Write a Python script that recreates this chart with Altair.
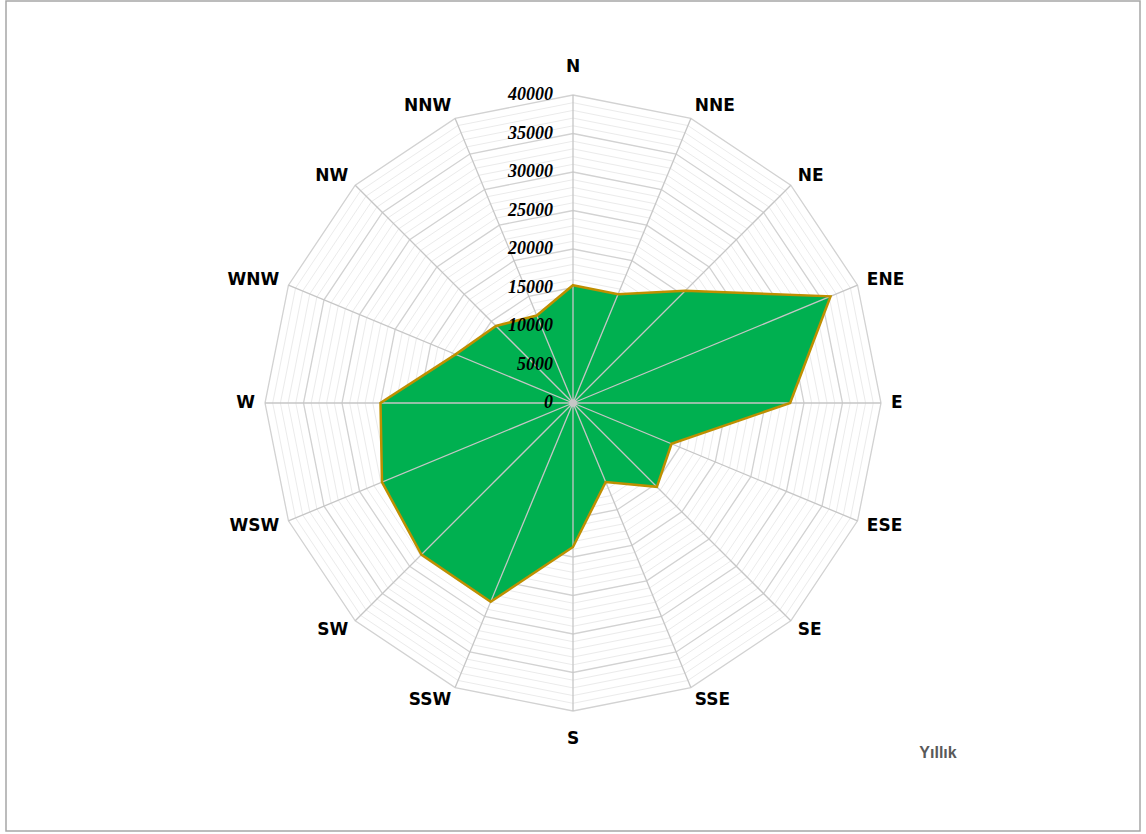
import altair as alt
import pandas as pd

# ---- data ----
directions = ["N", "NNE", "NE", "ENE", "E", "ESE", "SE", "SSE",
              "S", "SSW", "SW", "WSW", "W", "WNW", "NW", "NNW"]
values = [15300, 15300, 20600, 36200, 28200, 13850, 15400, 11100,
          18700, 27950, 27850, 26850, 25000, 16500, 14150, 12300]
major_ticks = [0, 5000, 10000, 15000, 20000, 25000, 30000, 35000, 40000]
minor_step = 1000
r_max = 40000
series_label = "Yıllık"

# ---- layout ----
W, H = 1134, 830          # plot area (inside frame)
CX, CY = 567, 402         # centre of the radar within plot area
R_PX = 308                # radius of the outer ring in pixels
PX = R_PX / r_max         # pixels per unit
xdom = [-CX / PX, (W - CX) / PX]
ydom = [-(H - CY) / PX, CY / PX]
xs = alt.Scale(domain=xdom, nice=False, zero=False)
ys = alt.Scale(domain=ydom, nice=False, zero=False)
n = len(directions)

df_dir = pd.DataFrame({"dir": directions, "idx": list(range(n)), "value": values})

levels = list(range(minor_step, r_max + 1, minor_step))
grid_rows = []
for lv in levels:
    for i in range(n):
        grid_rows.append({"level": lv, "idx": i, "major": lv % 5000 == 0})
df_grid = pd.DataFrame(grid_rows)
df_ticks = pd.DataFrame({"level": major_ticks, "label": [str(t) for t in major_ticks]})

ang = f"datum.idx * 2 * PI / {n}"
X = alt.X("x:Q", scale=xs, axis=None)
Y = alt.Y("y:Q", scale=ys, axis=None)

grid_base = alt.Chart(df_grid).transform_calculate(
    x=f"datum.level * sin({ang})", y=f"datum.level * cos({ang})"
)
minor = grid_base.transform_filter("!datum.major").mark_line(
    interpolate="linear-closed", stroke="#ebebeb", strokeWidth=1
).encode(x=X, y=Y, detail="level:N", order="idx:Q")
major = grid_base.transform_filter("datum.major").mark_line(
    interpolate="linear-closed", stroke="#d2d2d2", strokeWidth=1.3
).encode(x=X, y=Y, detail="level:N", order="idx:Q")

poly_base = alt.Chart(df_dir).transform_calculate(
    x=f"datum.value * sin({ang})", y=f"datum.value * cos({ang})"
)
fill = poly_base.mark_line(
    interpolate="linear-closed", fill="#00B050", stroke="#00B050", strokeWidth=0.5
).encode(x=X, y=Y, order="idx:Q")
outline = poly_base.mark_line(
    interpolate="linear-closed", stroke="#BF8F00", strokeWidth=2.5
).encode(x=X, y=Y, order="idx:Q")

spokes = alt.Chart(df_dir).transform_calculate(
    x0="0", y0="0",
    xe=f"{r_max} * sin({ang})", ye=f"{r_max} * cos({ang})"
).mark_rule(stroke="#c6c6c6", strokeWidth=1.3).encode(
    x=alt.X("x0:Q", scale=xs, axis=None), y=alt.Y("y0:Q", scale=ys, axis=None),
    x2="xe:Q", y2="ye:Q"
)

centre = alt.Chart(df_dir.head(1)).transform_calculate(x0="0", y0="0").mark_point(
    filled=True, color="#c6c6c6", size=60, opacity=1
).encode(x=alt.X("x0:Q", scale=xs, axis=None), y=alt.Y("y0:Q", scale=ys, axis=None))

tick_labels = alt.Chart(df_ticks).transform_calculate(x="0").mark_text(
    align="right", baseline="middle", dx=-20, font="Liberation Serif",
    fontStyle="italic", fontWeight="bold", fontSize=18, color="#000000"
).encode(x=alt.X("x:Q", scale=xs, axis=None),
         y=alt.Y("level:Q", scale=ys, axis=None), text="label:N")

# direction labels: sides anchored just outside the outer ring vertex
LX = (R_PX + 10) / PX
LY = (R_PX + 13) / PX
LNS = (R_PX + 28) / PX
lab_base = alt.Chart(df_dir).transform_calculate(
    lx=f"{LX} * sin({ang})", ly=f"{LY} * cos({ang})",
    nx=f"{LNS} * sin({ang})", ny=f"{LNS} * cos({ang})"
)
lab_style = dict(baseline="middle", font="DejaVu Sans", fontWeight="bold",
                 fontSize=17, color="#000000")
lab_right = lab_base.transform_filter("datum.idx > 0 && datum.idx < 8").mark_text(
    align="left", **lab_style
).encode(x=alt.X("lx:Q", scale=xs, axis=None),
         y=alt.Y("ly:Q", scale=ys, axis=None), text="dir:N")
lab_left = lab_base.transform_filter("datum.idx > 8").mark_text(
    align="right", **lab_style
).encode(x=alt.X("lx:Q", scale=xs, axis=None),
         y=alt.Y("ly:Q", scale=ys, axis=None), text="dir:N")
lab_ns = lab_base.transform_filter("datum.idx == 0 || datum.idx == 8").mark_text(
    align="center", **lab_style
).encode(x=alt.X("nx:Q", scale=xs, axis=None),
         y=alt.Y("ny:Q", scale=ys, axis=None), text="dir:N")

legend_text = alt.Chart(pd.DataFrame({"t": [series_label]})).mark_text(
    align="center", baseline="middle", font="Liberation Sans", fontWeight="bold",
    fontSize=16, color="#595959"
).encode(x=alt.value(932), y=alt.value(752), text="t:N")

chart = alt.layer(
    minor, major, fill, spokes, outline, centre, tick_labels,
    lab_right, lab_left, lab_ns, legend_text
).properties(
    width=W, height=H,
    padding={"left": 6, "top": 1, "right": 6, "bottom": 3},
    autosize=alt.AutoSizeParams(type="none"),
    background="white",
).configure_view(stroke="#a6a6a6", strokeWidth=1.5)

chart.save("out.html", embed_options={"renderer": "svg", "actions": False})
